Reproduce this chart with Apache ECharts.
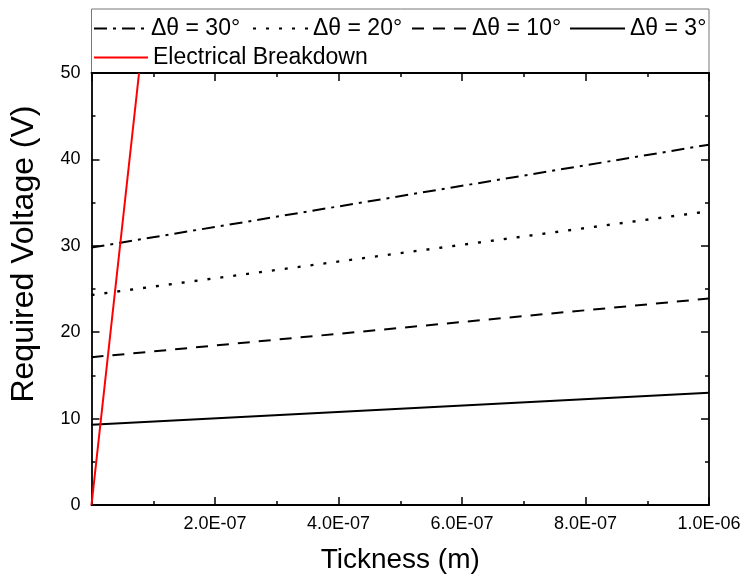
<!DOCTYPE html>
<html>
<head>
<meta charset="utf-8">
<script src="https://cdn.jsdelivr.net/npm/echarts@6/dist/echarts.min.js"></script>
<style>html,body{margin:0;padding:0;background:#fff}#chart{width:746px;height:579px}</style>
</head>
<body>
<div id="chart"></div>
<script>
// ---- data ----
const thickness = [0, 1e-6];
const dTheta30 = [29.8, 41.7];
const dTheta20 = [24.3, 34.0];
const dTheta10 = [17.1, 23.9];
const dTheta3 = [9.3, 13.0];
const breakdownThickness = [0, 7.7e-8];
const breakdownVoltage = [0, 50];
const seriesNames = ['\u0394\u03b8 = 30\u00b0', '\u0394\u03b8 = 20\u00b0', '\u0394\u03b8 = 10\u00b0', '\u0394\u03b8 = 3\u00b0', 'Electrical Breakdown'];
const xTitle = 'Tickness (m)';
const yTitle = 'Required Voltage (V)';

function pairs(xs, ys) { return xs.map((x, i) => [x, ys[i]]); }
function sci(v) {
  if (v === 0) return '';
  const s = v.toExponential(1).toUpperCase();
  const m = s.split('E');
  let e = parseInt(m[1], 10);
  const sign = e < 0 ? '-' : '+';
  e = Math.abs(e);
  return m[0] + 'E' + sign + (e < 10 ? '0' + e : e);
}

const FONT = 'Liberation Sans, Arial, sans-serif';
const chart = echarts.init(document.getElementById('chart'), null, {renderer: 'canvas'});

const axisCommon = () => ({
  axisLine: {show: true, onZero: false, lineStyle: {color: '#000', width: 1.8}},
  axisTick: {show: true, inside: true, length: 8, lineStyle: {color: '#000', width: 1.5}},
  minorTick: {show: true, splitNumber: 2, length: 4, lineStyle: {color: '#000', width: 1.5}},
  splitLine: {show: false}
});

const mk = (name, ys, style) => ({
  name, type: 'line', data: pairs(thickness, ys), symbol: 'none', showSymbol: false,
  lineStyle: Object.assign({color: '#000', width: 2}, style), itemStyle: {color: '#000'},
  silent: true
});

const legendText = {fontFamily: FONT, fontSize: 23, color: '#000'};
const legendAt = (name, left, top, w) => ({
  data: [name], left, top, itemWidth: w, itemHeight: 8, itemGap: 0, padding: 0,
  itemStyle: {opacity: 0}, textStyle: legendText, selectedMode: false
});

chart.setOption({
  animation: false,
  backgroundColor: '#fff',
  grid: {left: 91.5, right: 37, top: 73, bottom: 70.5},
  graphic: [{
    type: 'rect', shape: {x: 91.5, y: 9, width: 617.5, height: 64},
    style: {fill: 'none', stroke: '#777', lineWidth: 1}, z: 0
  }],
  legend: [
    legendAt(seriesNames[0], 93, 17, 52),
    legendAt(seriesNames[1], 252, 17, 55),
    legendAt(seriesNames[2], 411, 17, 55),
    legendAt(seriesNames[3], 569, 17, 55),
    legendAt(seriesNames[4], 93, 46, 54)
  ],
  xAxis: [Object.assign(axisCommon(), {
    type: 'value', min: 0, max: 1e-6, interval: 2e-7, position: 'bottom',
    name: xTitle, nameLocation: 'middle', nameGap: 41,
    nameTextStyle: {fontFamily: FONT, fontSize: 28, color: '#000'},
    axisLabel: {formatter: sci, fontFamily: FONT, fontSize: 18, color: '#000', margin: 10,
      showMinLabel: false}
  }), Object.assign(axisCommon(), {
    type: 'value', min: 0, max: 1e-6, interval: 2e-7, position: 'top',
    axisLabel: {show: false}
  })],
  yAxis: [Object.assign(axisCommon(), {
    type: 'value', min: 0, max: 50, interval: 10, position: 'left',
    name: yTitle, nameLocation: 'middle', nameGap: 51,
    nameTextStyle: {fontFamily: FONT, fontSize: 32, color: '#000', padding: [0, 0, 0, 70]},
    axisLabel: {fontFamily: FONT, fontSize: 18, color: '#000', margin: 11}
  }), Object.assign(axisCommon(), {
    type: 'value', min: 0, max: 50, interval: 10, position: 'right',
    axisLabel: {show: false}
  })],
  series: [
    mk(seriesNames[0], dTheta30, {type: [13, 6, 3, 6]}),
    mk(seriesNames[1], dTheta20, {type: [3, 10], width: 2.4}),
    mk(seriesNames[2], dTheta10, {type: [12, 9]}),
    mk(seriesNames[3], dTheta3, {type: 'solid'}),
    {
      name: seriesNames[4], type: 'line', data: pairs(breakdownThickness, breakdownVoltage),
      symbol: 'none', lineStyle: {color: '#ff0000', width: 2}, itemStyle: {color: '#ff0000'},
      silent: true, z: 5
    }
  ]
});
</script>
</body>
</html>
